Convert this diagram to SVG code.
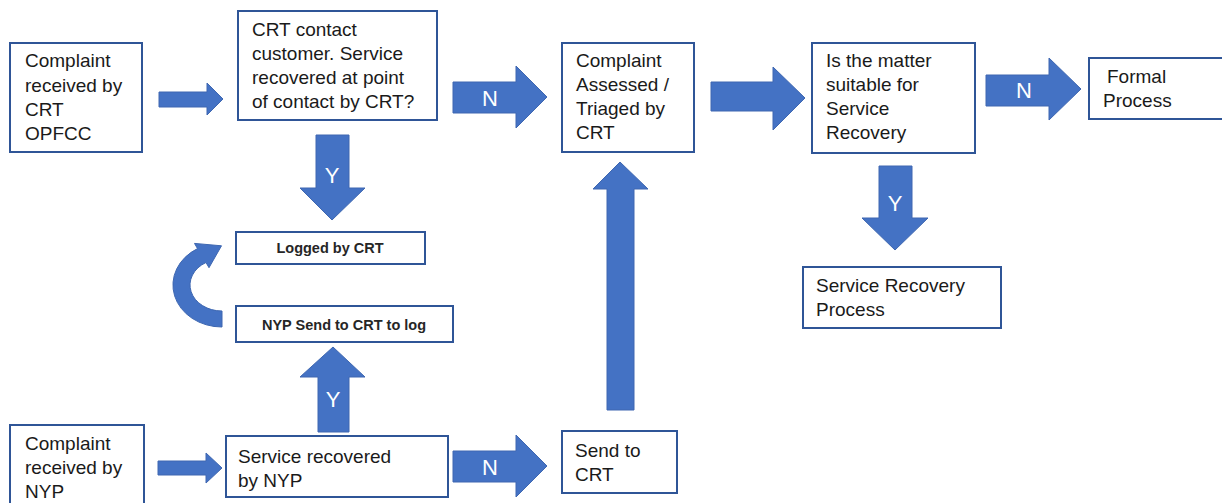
<svg xmlns="http://www.w3.org/2000/svg" width="1222" height="503" viewBox="0 0 1222 503">
<style>
.box{fill:#fff;stroke:#2F5597;stroke-width:2}
.arr{fill:#4472C4;stroke:#3E67B1;stroke-width:1}
.t{font-family:"Liberation Sans",Arial,sans-serif;font-size:19px;fill:#1a1a1a}
.s{font-family:"Liberation Sans",Arial,sans-serif;font-size:14.5px;font-weight:bold;fill:#262626;text-anchor:middle}
.l{font-family:"Liberation Sans",Arial,sans-serif;font-size:22px;fill:#fff;text-anchor:middle}
</style>
<rect width="1222" height="503" fill="#fff"/>
<g id="connectors">
  <polygon class="arr" points="159,92 207,92 207,83 223,99 207,115 207,107 159,107"/>
  <polygon class="arr" points="453,82 516,82 516,66 547,97 516,128 516,113 453,113"/>
  <text class="l" x="490" y="106">N</text>
  <polygon class="arr" points="711,82 773,82 773,67 805,98 773,130 773,111 711,111"/>
  <polygon class="arr" points="986,75 1049,75 1049,58 1081,89 1049,120 1049,106 986,106"/>
  <text class="l" x="1024" y="98">N</text>
  <polygon class="arr" points="316,135 349,135 349,188 365,188 332,220 300,188 316,188"/>
  <text class="l" x="332" y="183">Y</text>
  <polygon class="arr" points="879,166 912,166 912,218 928,218 895,250 862,218 879,218"/>
  <text class="l" x="895" y="211">Y</text>
  <polygon class="arr" points="607,410 634,410 634,189 648,189 620,162 593,189 607,189"/>
  <polygon class="arr" points="318,432 349,432 349,377 365,377 333,347 300,377 318,377"/>
  <text class="l" x="333" y="407">Y</text>
  <polygon class="arr" points="158,461 206,461 206,453 222,468 206,483 206,475 158,475"/>
  <polygon class="arr" points="453,451 516,451 516,435 547,466 516,497 516,482 453,482"/>
  <text class="l" x="490" y="475">N</text>
  <path class="arr" d="M222,327 A49,42 0 0 1 197.5,248.6 L194.5,243.4 L221.5,245.8 L209,267.7 L206,262.5 A32,26 0 0 0 222,311 Z"/>
</g>
<g id="n1"><rect class="box" x="10" y="43" width="132" height="109"/>
<text class="t" x="25" y="67">Complaint</text><text class="t" x="25" y="92">received by</text><text class="t" x="25" y="116">CRT</text><text class="t" x="25" y="140">OPFCC</text></g>
<g id="n2"><rect class="box" x="238" y="11" width="199" height="109"/>
<text class="t" x="252" y="36">CRT contact</text><text class="t" x="252" y="60">customer. Service</text><text class="t" x="252" y="84">recovered at point</text><text class="t" x="252" y="108">of contact by CRT?</text></g>
<g id="n3"><rect class="box" x="562" y="43" width="132" height="109"/>
<text class="t" x="576" y="67">Complaint</text><text class="t" x="576" y="91">Assessed /</text><text class="t" x="576" y="115">Triaged by</text><text class="t" x="576" y="139">CRT</text></g>
<g id="n4"><rect class="box" x="812" y="43" width="163" height="110"/>
<text class="t" x="826" y="67">Is the matter</text><text class="t" x="826" y="91">suitable for</text><text class="t" x="826" y="115">Service</text><text class="t" x="826" y="139">Recovery</text></g>
<g id="n5"><rect class="box" x="1089" y="58" width="140" height="61"/>
<text class="t" x="1107" y="83">Formal</text><text class="t" x="1103" y="107">Process</text></g>
<g id="n6"><rect class="box" x="803" y="267" width="198" height="61"/>
<text class="t" x="816" y="292">Service Recovery</text><text class="t" x="816" y="316">Process</text></g>
<g id="n7"><rect class="box" x="236" y="232" width="189" height="32"/>
<text class="s" x="330" y="253">Logged by CRT</text></g>
<g id="n8"><rect class="box" x="236" y="306" width="217" height="36"/>
<text class="s" x="344" y="330">NYP Send to CRT to log</text></g>
<g id="n9"><rect class="box" x="10" y="425" width="134" height="90"/>
<text class="t" x="25" y="450">Complaint</text><text class="t" x="25" y="474">received by</text><text class="t" x="25" y="498">NYP</text></g>
<g id="n10"><rect class="box" x="226" y="436" width="222" height="61"/>
<text class="t" x="238" y="463">Service recovered</text><text class="t" x="238" y="487">by NYP</text></g>
<g id="n11"><rect class="box" x="562" y="431" width="115" height="62"/>
<text class="t" x="575" y="457">Send to</text><text class="t" x="575" y="481">CRT</text></g>
</svg>
